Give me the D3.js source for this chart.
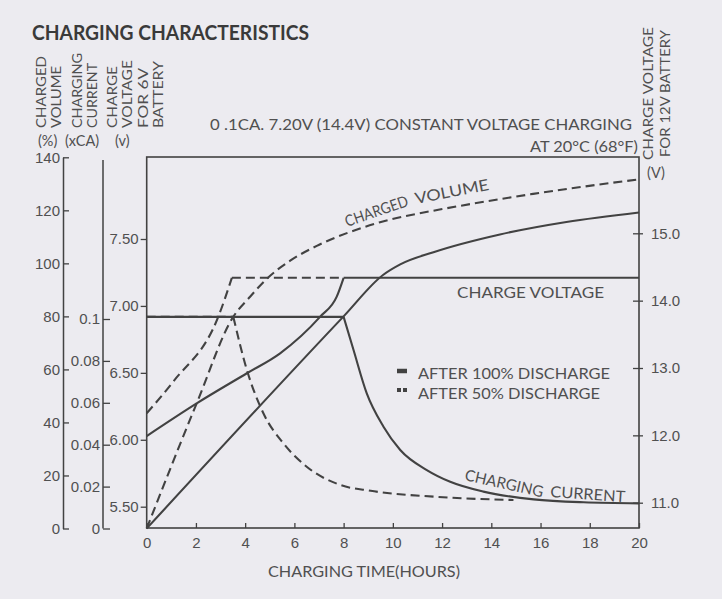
<!DOCTYPE html>
<html>
<head>
<meta charset="utf-8">
<script src="https://cdn.jsdelivr.net/npm/d3@7"></script>
<style>
  html, body { margin: 0; padding: 0; background: #ecebf0; }
  svg { display: block; font-family: Lato, 'Open Sans', sans-serif; }
</style>
</head>
<body>
<div id="chart"></div>
<script>
// tick values
const hourTicks = [0, 2, 4, 6, 8, 10, 12, 14, 16, 18, 20]
const volumeTicks = [0, 20, 40, 60, 80, 100, 120, 140]
const currentTicks = [0, 0.02, 0.04, 0.06, 0.08, 0.1]
const volt6Ticks = [5.5, 6.0, 6.5, 7.0, 7.5]
const volt12Ticks = [11, 12, 13, 14, 15]

// after 100% discharge  [hours, value]
const volumeFull = [[0, 0], [8, 80], [9.6, 95.6], [10.3, 99.6], [11.65, 104.2],
  [14.35, 110.9], [17.05, 115.6], [20, 119.2]]
const currentFull = [[0, 0.101], [8.0, 0.101]]
const currentFullDecay = [[8.0, 0.101], [8.4, 0.0853], [8.94, 0.0645], [9.62, 0.0486],
  [10.3, 0.0375], [11.38, 0.0279], [12.33, 0.0223], [13.68, 0.0176], [15.72, 0.0139],
  [17.75, 0.0125], [20, 0.012]]
const voltageFull = [[0, 6.028], [2.03, 6.272], [4.07, 6.497], [5.42, 6.646],
  [7.05, 6.92], [7.72, 7.069], [8.0, 7.21]]
const voltageFullHold = [[8.0, 7.21], [20, 7.21]]

// after 50% discharge
const volumeHalf = [[0, 0], [2.03, 47.2], [3.52, 79.9], [4.2, 87.4], [4.88, 94.2],
  [5.83, 101.0], [6.91, 106.6], [8.13, 111.4], [9.48, 115.5], [11.9, 120.3],
  [13.3, 122.6], [15.7, 126.2], [20, 131.7]]
const currentHalf = [[0, 0.101], [3.52, 0.101]]
const currentHalfDecay = [[3.52, 0.101], [4.07, 0.0757], [4.74, 0.055], [5.55, 0.0407],
  [6.5, 0.0295], [7.86, 0.0208], [9.1, 0.018], [11.65, 0.0152], [14.9, 0.0136]]
const voltageHalf = [[0, 6.198], [1.08, 6.435], [2.91, 6.92], [3.46, 7.21]]
const voltageHalfHold = [[3.46, 7.21], [8.0, 7.21]]

let W = 722
let H = 599
let c_line = '#424242'
let c_text = '#505050'

let svg = d3.select('#chart').append('svg')
  .attr('width', W)
  .attr('height', H)

svg.append('rect').attr('width', W).attr('height', H).attr('fill', '#ecebf0')

// plot box
let p_left = 146.7, p_right = 639, p_top = 157, p_bottom = 528

let x = d3.scaleLinear().domain([0, 20]).range([p_left, p_right])
let yV6 = d3.scaleLinear().domain([5.5, 7.5]).range([506.7, 239])
let yV12 = d3.scaleLinear().domain([11, 15]).range([502.7, 233.3])
let yPct = d3.scaleLinear().domain([0, 140]).range([528.5, 157.3])
let yCur = d3.scaleLinear().domain([0, 0.1]).range([528.5, 319])

function styleAxis (g) {
  g.selectAll('text')
    .attr('fill', c_text)
    .style('font-size', '15px')
  g.selectAll('line').attr('stroke', c_line).attr('stroke-width', 1.3)
  g.selectAll('.domain').attr('stroke', c_line).attr('stroke-width', 1.5)
}

// charged volume axis
svg.append('g')
  .attr('transform', 'translate(63,0)')
  .call(d3.axisLeft(yPct).tickValues(volumeTicks)
    .tickSizeInner(-6).tickSizeOuter(0).tickPadding(3))
  .call(styleAxis)

// charging current axis
svg.append('g')
  .attr('transform', 'translate(103,0)')
  .call(d3.axisLeft(yCur).tickValues(currentTicks)
    .tickSizeInner(-7).tickSizeOuter(0).tickPadding(3)
    .tickFormat(d => d === 0 ? '0' : String(+d.toFixed(2))))
  .call(styleAxis)
  .call(g => g.select('.domain').remove())
svg.append('line')
  .attr('x1', 103).attr('x2', 103)
  .attr('y1', 160).attr('y2', yCur(0))
  .attr('stroke', c_line).attr('stroke-width', 1.5)

// 6V axis
svg.append('g')
  .attr('transform', `translate(${p_left},0)`)
  .call(d3.axisLeft(yV6).tickValues(volt6Ticks)
    .tickSize(6).tickPadding(2).tickFormat(d3.format('.2f')))
  .call(styleAxis)
  .call(g => g.select('.domain').remove())

// 12V axis
svg.append('g')
  .attr('transform', `translate(${p_right},0)`)
  .call(d3.axisRight(yV12).tickValues(volt12Ticks)
    .tickSize(4).tickPadding(8).tickFormat(d3.format('.1f')))
  .call(styleAxis)
  .call(g => g.select('.domain').remove())
  .call(g => g.selectAll('line').attr('x1', -6))

// hours axis
svg.append('g')
  .attr('transform', `translate(0,${p_bottom})`)
  .call(d3.axisBottom(x).tickValues(hourTicks)
    .tickSizeInner(-5).tickSizeOuter(0).tickPadding(9))
  .call(styleAxis)
  .call(g => g.select('.domain').remove())

// frame
svg.append('rect')
  .attr('x', p_left).attr('y', p_top)
  .attr('width', p_right - p_left).attr('height', p_bottom - p_top)
  .attr('fill', 'none')
  .attr('stroke', c_line)
  .attr('stroke-width', 1.6)

// curves
let series = [
  { data: currentHalf, y: yCur, dash: true },
  { data: currentFull, y: yCur },
  { data: currentFullDecay, y: yCur },
  { data: currentHalfDecay, y: yCur, dash: true },
  { data: volumeFull, y: yPct },
  { data: volumeHalf, y: yPct, dash: true },
  { data: voltageFull, y: yV6 },
  { data: voltageFullHold, y: yV6 },
  { data: voltageHalf, y: yV6, dash: true },
  { data: voltageHalfHold, y: yV6, dash: true }
]

series.forEach(s => {
  let line = d3.line()
    .x(d => x(d[0]))
    .y(d => s.y(d[1]))
    .curve(d3.curveMonotoneX)
  svg.append('path')
    .datum(s.data)
    .attr('d', line)
    .attr('fill', 'none')
    .attr('stroke', c_line)
    .attr('stroke-width', 2.1)
    .attr('stroke-dasharray', s.dash ? '9,5' : null)
})

// texts
function label (txt, px, py, size, opts = {}) {
  let t = svg.append('text')
    .text(txt)
    .attr('fill', opts.color || c_text)
    .style('font-size', size + 'px')
    .attr('text-anchor', opts.anchor || 'start')
  if (opts.len) t.attr('textLength', opts.len).attr('lengthAdjust', 'spacingAndGlyphs')
  if (opts.bold) t.style('font-weight', 'bold')
  let tr = `translate(${px},${py})`
  if (opts.rot) tr += ` rotate(${opts.rot})`
  t.attr('transform', tr)
  return t
}

label('CHARGING CHARACTERISTICS', 32, 40, 20, { bold: true, color: '#3a3a3a', len: 277 })

// left axis titles (vertical)
let vTitles = [
  ['CHARGED', 45.5, 72], ['VOLUME', 60.7, 62],
  ['CHARGING', 81.7, 75], ['CURRENT', 96.7, 65],
  ['CHARGE', 116.7, 62], ['VOLTAGE', 132.3, 68],
  ['FOR 6V', 148.3, 60], ['BATTERY', 163.3, 67]
]
vTitles.forEach(d => label(d[0], d[1], 128, 14, { rot: -90, len: d[2] }))
label('(%)', 38, 146, 14.5)
label('(xCA)', 65, 146, 14.5)
label('(v)', 115, 146, 14.5)

// right axis title
label('CHARGE VOLTAGE', 653, 160, 14, { rot: -90, len: 133 })
label('FOR 12V BATTERY', 670, 157, 14, { rot: -90, len: 127 })
label('(V)', 647, 178, 14.5)

label('0 .1CA. 7.20V (14.4V) CONSTANT VOLTAGE CHARGING', 210, 130, 16, { len: 422 })
label('AT 20°C (68°F)', 638, 152, 16, { anchor: 'end', len: 108 })

label('CHARGED', 347, 227, 15.5, { rot: -19, len: 66 })
label('VOLUME', 416, 204, 15.5, { rot: -11, len: 75 })
label('CHARGE VOLTAGE', 457, 298, 16, { len: 147 })
label('CHARGING', 464, 480, 15.5, { rot: 12.5, len: 80 })
label('CURRENT', 550, 497, 15.5, { rot: 4, len: 75 })

label('CHARGING TIME(HOURS)', 268, 577, 16, { len: 192 })

// legend
svg.append('line')
  .attr('x1', 397).attr('x2', 407)
  .attr('y1', 371).attr('y2', 371)
  .attr('stroke', c_line).attr('stroke-width', 4.5)
svg.append('line')
  .attr('x1', 397).attr('x2', 407)
  .attr('y1', 390).attr('y2', 390)
  .attr('stroke', c_line).attr('stroke-width', 4)
  .attr('stroke-dasharray', '4,2')
label('AFTER 100% DISCHARGE', 418, 379, 16, { len: 192 })
label('AFTER 50% DISCHARGE', 418, 399, 16, { len: 182 })
</script>
</body>
</html>
